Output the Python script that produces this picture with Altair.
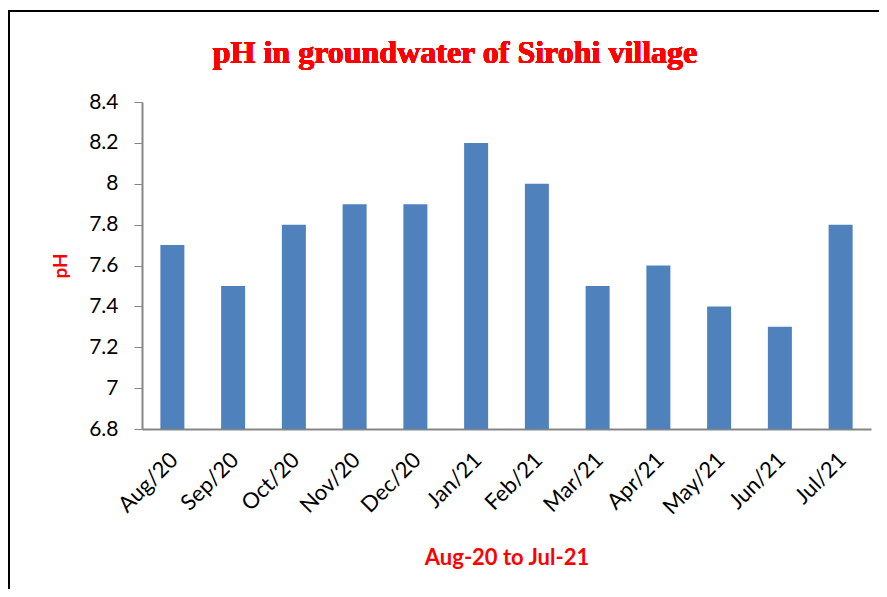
import altair as alt
import pandas as pd

months = ["Aug/20", "Sep/20", "Oct/20", "Nov/20", "Dec/20", "Jan/21",
          "Feb/21", "Mar/21", "Apr/21", "May/21", "Jun/21", "Jul/21"]
ph_values = [7.7, 7.5, 7.8, 7.9, 7.9, 8.2, 8.0, 7.5, 7.6, 7.4, 7.3, 7.8]
y_ticks = [6.8, 7.0, 7.2, 7.4, 7.6, 7.8, 8.0, 8.2, 8.4]
title_text = "pH in groundwater of Sirohi village"

df = pd.DataFrame({"month": months, "ph": ph_values})

W, H = 729, 327
FONT = "Lato"

bars = alt.Chart(df).mark_bar(size=24, color="#4F81BD").encode(
    x=alt.X("month:N", sort=months,
            axis=alt.Axis(title="Aug-20 to Jul-21", labelAngle=-45,
                          labelAlign="right", labelBaseline="top",
                          labelFontSize=22, labelFont=FONT, labelColor="black",
                          labelPadding=20, labelOffset=-5, ticks=False, grid=False,
                          domainColor="#868686", domainWidth=2,
                          titleColor="#FF0000", titleFont=FONT, titleFontSize=22,
                          titleFontWeight="bold", titlePadding=29)),
    y=alt.Y("ph:Q", scale=alt.Scale(domain=[6.8, 8.4], zero=False, nice=False),
            axis=alt.Axis(title="pH", values=y_ticks, format=".1~f", grid=False,
                          labelFontSize=21, labelFont=FONT, labelColor="black",
                          labelPadding=16, tickSize=8, tickColor="#868686",
                          domainColor="#868686", domainWidth=2,
                          titleColor="#FF0000", titleFont=FONT, titleFontSize=19,
                          titleFontWeight="bold", titlePadding=18)),
    y2=alt.datum(6.8),
)

title_mark = alt.Chart(df).mark_text(
    font="Liberation Serif", fontSize=32, fontWeight="bold", color="#FF0000",
    align="center", baseline="alphabetic",
).encode(x=alt.value(313), y=alt.value(-39), text=alt.value(title_text))

border_left = alt.Chart(df).mark_rule(color="black", strokeWidth=2).encode(
    x=alt.value(-133), y=alt.value(-91), y2=alt.value(500))
border_top = alt.Chart(df).mark_rule(color="black", strokeWidth=2).encode(
    x=alt.value(-134), x2=alt.value(760), y=alt.value(-91))

chart = alt.layer(border_left, border_top, title_mark, bars).properties(
    width=W, height=H,
    autosize=alt.AutoSizeParams(type="none"),
    padding={"left": 134, "top": 94, "right": 8, "bottom": 160},
).configure(
    background="white",
    view=alt.ViewConfig(stroke="transparent", strokeWidth=0),
    axis=alt.AxisConfig(grid=False),
)

chart.save("out.html", embed_options={"renderer": "svg", "actions": False})
